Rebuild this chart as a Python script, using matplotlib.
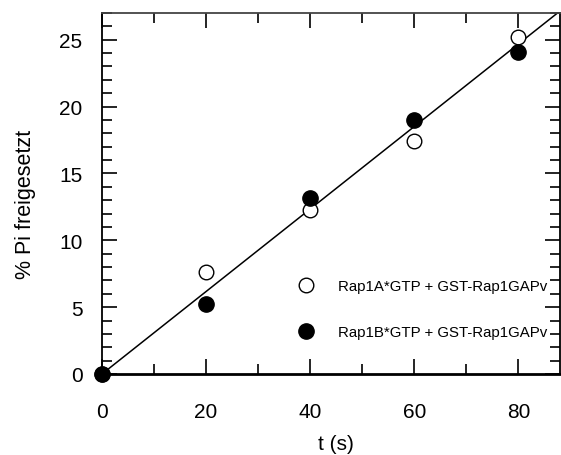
import numpy as np
import matplotlib
matplotlib.use("Agg")
import matplotlib.pyplot as plt
from matplotlib.ticker import MultipleLocator

plt.rcParams['font.family'] = ['Liberation Sans', 'DejaVu Sans']

t = [0, 20, 40, 60, 80]
rap1a = [0, 7.6, 12.3, 17.4, 25.2]
rap1b = [0, 5.2, 13.2, 19.0, 24.1]
label_a = "Rap1A*GTP + GST-Rap1GAPv"
label_b = "Rap1B*GTP + GST-Rap1GAPv"

fig = plt.figure(figsize=(5.61, 4.56), dpi=100)
ax = fig.add_axes([102/561, 81/456, 458/561, 361/456])

# fit through origin on all data
x_all = np.array(t + t, dtype=float)
y_all = np.array(rap1a + rap1b, dtype=float)
slope = np.sum(x_all * y_all) / np.sum(x_all ** 2)
xl = np.array([0, 88])
ax.plot(xl, slope * xl, color='black', lw=1.1, zorder=2)

ax.plot(t, rap1a, 'o', ms=10.5, mfc='white', mec='black', mew=1.0, label=label_a, zorder=3, clip_on=False)
ax.plot(t, rap1b, 'o', ms=11, mfc='black', mec='black', label=label_b, zorder=4, clip_on=False)

ax.set_xlim(0, 88)
ax.set_ylim(0, 27)
ax.xaxis.set_major_locator(MultipleLocator(20))
ax.xaxis.set_minor_locator(MultipleLocator(10))
ax.yaxis.set_major_locator(MultipleLocator(5))
ax.yaxis.set_minor_locator(MultipleLocator(1))
ax.tick_params(which='both', direction='in', top=True, right=True, width=1.2, colors='black')
ax.tick_params(which='major', length=10.8, labelsize=15)
ax.tick_params(which='minor', length=7.2)
ax.tick_params(axis='x', which='major', pad=20)
ax.tick_params(axis='y', which='major', pad=14)
for s in ['left', 'top', 'right']:
    ax.spines[s].set_linewidth(1.3)
ax.spines['top'].set_color('#444444')
ax.spines['bottom'].set_linewidth(2)

ax.set_xlabel('t (s)', fontsize=15)
ax.set_ylabel('% Pi freigesetzt', fontsize=15.5)
ax.xaxis.set_label_coords((336 - 102) / 458, (375 - 435) / 361)
ax.yaxis.set_label_coords((36 - 102) / 458, (375 - 204) / 361)

ax.legend(loc='center left', bbox_to_anchor=(0.4006, 0.18), frameon=False,
          fontsize=10.8, numpoints=1, handlelength=1.0, handletextpad=1.62,
          labelspacing=2.1, borderpad=0.4)

fig.savefig('out.png', dpi=100)
